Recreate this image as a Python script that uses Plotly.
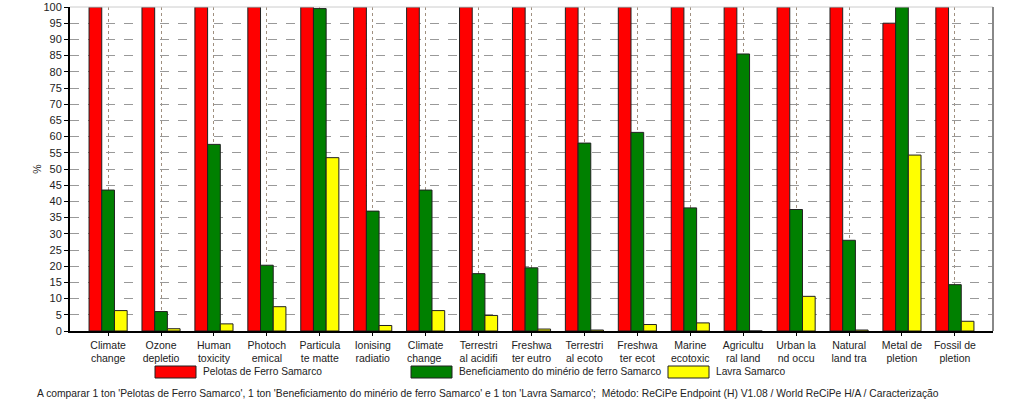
import plotly.graph_objects as go

categories = ["Climate<br>change", "Ozone<br>depletio", "Human<br>toxicity", "Photoch<br>emical",
              "Particula<br>te matte", "Ionising<br>radiatio", "Climate<br>change ", "Terrestri<br>al acidifi",
              "Freshwa<br>ter eutro", "Terrestri<br>al ecoto", "Freshwa<br>ter ecot", "Marine<br>ecotoxic",
              "Agricultu<br>ral land", "Urban la<br>nd occu", "Natural<br>land tra", "Metal de<br>pletion",
              "Fossil de<br>pletion"]

series_names = ["Pelotas de Ferro Samarco", "Beneficiamento do minério de ferro Samarco", "Lavra Samarco"]
series_colors = ["#FF0000", "#008000", "#FFFF00"]

pelotas = [100, 100, 100, 100, 100, 100, 100, 100, 100, 100, 100, 100, 100, 100, 100, 95, 100]
beneficiamento = [43.5, 6.0, 57.6, 20.3, 99.5, 37.0, 43.5, 17.7, 19.5, 58.0, 61.3, 38.0, 85.5, 37.5, 28.0, 100, 14.3]
lavra = [6.3, 0.7, 2.2, 7.5, 53.5, 1.7, 6.3, 4.8, 0.6, 0.3, 2.0, 2.5, 0.0, 10.7, 0.3, 54.3, 3.0]

caption = ("A comparar 1 ton 'Pelotas de Ferro Samarco', 1 ton 'Beneficiamento do minério de ferro Samarco' "
           "e 1 ton 'Lavra Samarco';  Método: ReCiPe Endpoint (H) V1.08 / World ReCiPe H/A / Caracterização")

FONT = "Liberation Sans"
FS = 10.5
TXT = "#222222"

fig = go.Figure()
for name, vals, col in zip(series_names, [pelotas, beneficiamento, lavra], series_colors):
    fig.add_trace(go.Bar(x=categories, y=vals, name=name,
                         marker=dict(color=col, line=dict(color="#202020", width=1)),
                         showlegend=False))

fig.update_layout(
    width=1023, height=405,
    margin=dict(l=70, r=30, t=7, b=74, autoexpand=False),
    paper_bgcolor="white", plot_bgcolor="white",
    barmode="group", bargap=0.28, bargroupgap=0,
    font=dict(family=FONT, size=FS, color=TXT),
    xaxis=dict(type="category", range=[-0.72, 16.72], showgrid=True, gridcolor="#a09080", griddash="dot",
               gridwidth=1, showline=True, linecolor="black", linewidth=2, ticks="outside", ticklen=3,
               tickcolor="black", tickfont=dict(size=FS, family=FONT, color=TXT), automargin=False),
    yaxis=dict(range=[0, 100], dtick=5, showgrid=True, gridcolor="#999999", griddash="dash", gridwidth=1,
               showline=True, linecolor="black", linewidth=2, ticks="outside", ticklen=4, tickcolor="black",
               tickfont=dict(size=FS + 0.5, family=FONT, color=TXT), zeroline=False, automargin=False,
               title=dict(text="%", font=dict(size=FS, family=FONT, color=TXT), standoff=0)),
    shapes=[
        dict(type="line", xref="paper", yref="paper", x0=0, x1=1, y0=1, y1=1, line=dict(color="#cccccc", width=1)),
        dict(type="line", xref="paper", yref="paper", x0=1, x1=1, y0=0, y1=1, line=dict(color="#888888", width=2)),
    ],
)

# custom legend (wide rectangles like the original)
leg_x = [155, 411, 668]
for i, (name, col) in enumerate(zip(series_names, series_colors)):
    x0 = (leg_x[i] - 70) / 923.0
    x1 = (leg_x[i] + 41 - 70) / 923.0
    fig.add_shape(type="rect", xref="paper", yref="paper", x0=x0, x1=x1,
                  y0=-(366 - 331) / 324.0, y1=-(378 - 331) / 324.0,
                  fillcolor=col, line=dict(color="#202020", width=1))
    fig.add_annotation(xref="paper", yref="paper", x=(leg_x[i] + 46 - 70) / 923.0, y=-(372 - 331) / 324.0,
                       text=name, showarrow=False, xanchor="left", yanchor="middle",
                       font=dict(size=10.2, family=FONT, color=TXT))

fig.add_annotation(xref="paper", yref="paper", x=(35 - 70) / 923.0, y=-(393 - 331) / 324.0, text=caption,
                   showarrow=False, xanchor="left", yanchor="middle", font=dict(size=10.3, family=FONT, color=TXT))

fig.write_html("out.html")
